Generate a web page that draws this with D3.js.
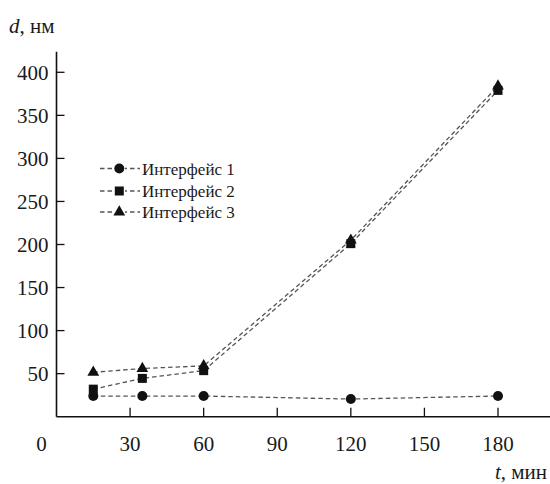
<!DOCTYPE html>
<html><head><meta charset="utf-8">
<script src="https://cdn.jsdelivr.net/npm/d3@7"></script>
<style>body{margin:0;background:#fff}svg{display:block}</style>
</head><body><svg id="c" width="550" height="484"></svg>
<script>
const times = [15, 35, 60, 120, 180];
const iface1 = [24, 24, 24, 20.5, 24];
const iface2 = [32, 44.5, 53.5, 201, 379];
const iface3 = [51.5, 56, 59, 205, 384];
const seriesNames = ["Интерфейс 1", "Интерфейс 2", "Интерфейс 3"];
const xTicks = [30, 60, 90, 120, 150, 180];
const yTicks = [50, 100, 150, 200, 250, 300, 350, 400];

const FONT = "'Liberation Serif'";
const svg = d3.select("#c");
const x = d3.scaleLinear().domain([0, 180]).range([56.5, 498]);
const y = d3.scaleLinear().domain([0, 400]).range([416.7, 72.3]);

function txt(g) { return g.append("text").style("font-family", FONT).attr("fill", "#1a1a1a"); }

// axes
svg.append("line").attr("x1", x(0)).attr("x2", 550).attr("y1", y(0)).attr("y2", y(0)).attr("stroke", "#111").attr("stroke-width", 1.6);
svg.append("line").attr("x1", x(0)).attr("x2", x(0)).attr("y1", y(0)).attr("y2", 51.7).attr("stroke", "#111").attr("stroke-width", 1.6);

const xa = svg.append("g");
xa.selectAll("line").data(xTicks).join("line")
  .attr("x1", d => x(d)).attr("x2", d => x(d)).attr("y1", y(0)).attr("y2", y(0) - 9)
  .attr("stroke", "#111").attr("stroke-width", 1.3);
[0].concat(xTicks).forEach(d => {
  txt(xa).attr("x", d === 0 ? 41.5 : x(d)).attr("y", 450.5).attr("text-anchor", "middle")
    .attr("font-size", 21).text(d);
});

const ya = svg.append("g");
ya.selectAll("line").data(yTicks).join("line")
  .attr("x1", x(0)).attr("x2", x(0) + 8).attr("y1", d => y(d)).attr("y2", d => y(d))
  .attr("stroke", "#111").attr("stroke-width", 1.3);
yTicks.forEach(d => {
  txt(ya).attr("x", 48.5).attr("y", y(d) + 7.5).attr("text-anchor", "end")
    .attr("font-size", 21).text(d);
});

// axis titles
const yt = txt(svg).attr("x", 9).attr("y", 33).attr("font-size", 21);
yt.append("tspan").attr("font-style", "italic").text("d");
yt.append("tspan").text(", нм");
const xt = txt(svg).attr("x", 547).attr("y", 479).attr("text-anchor", "end").attr("font-size", 21);
xt.append("tspan").attr("font-style", "italic").text("t");
xt.append("tspan").text(", мин");

const series = [iface1, iface2, iface3];
const line = d3.line().x((d, i) => x(times[i])).y(d => y(d));
const dash = "4.5,3";
series.forEach(s => {
  svg.append("path").attr("d", line(s)).attr("fill", "none")
    .attr("stroke", "#555").attr("stroke-width", 1.3).attr("stroke-dasharray", dash);
});

function marker(g, k, cx, cy) {
  if (k === 0) g.append("circle").attr("cx", cx).attr("cy", cy).attr("r", 5).attr("fill", "#111");
  else if (k === 1) g.append("rect").attr("x", cx - 4.5).attr("y", cy - 4.5).attr("width", 9).attr("height", 9).attr("fill", "#111");
  else g.append("path").attr("d", d3.symbol().type(d3.symbolTriangle).size(60)()).attr("transform", `translate(${cx},${cy})`).attr("fill", "#111");
}
const mg = svg.append("g");
series.forEach((s, k) => s.forEach((v, i) => marker(mg, k, x(times[i]), y(v))));

// legend
const lg = svg.append("g");
const ly = [168.5, 191, 212];
seriesNames.forEach((n, k) => {
  lg.append("line").attr("x1", 100).attr("x2", 140).attr("y1", ly[k]).attr("y2", ly[k])
    .attr("stroke", "#555").attr("stroke-width", 1.3).attr("stroke-dasharray", dash);
  lg.append("rect").attr("x", 113).attr("y", ly[k] - 5).attr("width", 12).attr("height", 10).attr("fill", "#fff");
  marker(lg, k, 119.3, ly[k]);
  txt(lg).attr("x", 142).attr("y", ly[k] + 6).attr("font-size", 17).text(n);
});
</script></body></html>
